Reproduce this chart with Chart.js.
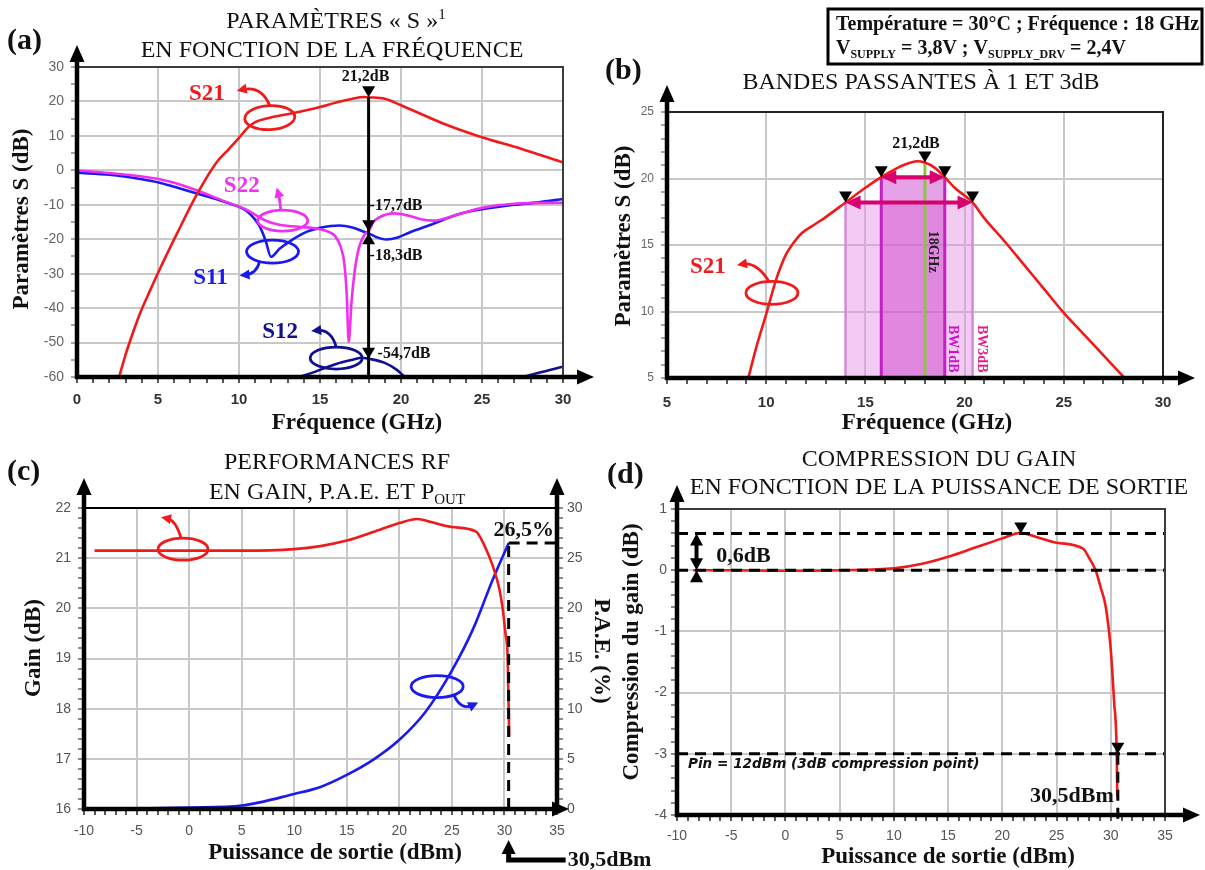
<!DOCTYPE html>
<html>
<head>
<meta charset="utf-8">
<script src="https://cdn.jsdelivr.net/npm/chart.js@4.4.1/dist/chart.umd.min.js"></script>
<style>
body { margin: 0; background: #fff; width: 1205px; height: 870px; overflow: hidden; position: relative; }
canvas { position: absolute; }
</style>
</head>
<body>
<canvas id="ca" width="600" height="440" style="left:0;top:0"></canvas>
<canvas id="cb" width="605" height="440" style="left:600px;top:0"></canvas>
<canvas id="cc" width="660" height="430" style="left:0;top:440px"></canvas>
<canvas id="cd" width="605" height="430" style="left:600px;top:440px"></canvas>
<script>
// ---- (a) S parameters vs frequency ----
var freqS21a = [2.6, 3, 3.5, 3.9, 4.5, 5.1, 6.2, 7.4, 8.6, 9.4, 10, 10.5, 11, 12, 13.2, 15, 16, 17, 17.7, 18, 19, 20, 22.6, 25, 27.4, 30];
var s21a = [-60, -53.5, -46.5, -41.4, -35, -28.8, -18.1, -7, 2.2, 6.3, 9.4, 12.2, 14, 15.4, 16.5, 18.4, 19.7, 20.8, 21.3, 21.2, 20.8, 18.9, 13.6, 9.6, 6.3, 2.3];
var freqS11 = [0, 2, 4, 5.1, 6, 7.6, 9, 10.4, 11, 11.3, 11.65, 11.97, 12.5, 13.3, 14.2, 15, 16.2, 17, 17.8, 18, 18.5, 19.1, 19.8, 20.5, 22, 23.5, 25, 27, 28.5, 30];
var s11 = [-0.7, -1.3, -2.6, -3.6, -4.8, -7, -9, -11.6, -14.3, -16.5, -20.5, -25.1, -22.8, -20.1, -17.8, -16.7, -16, -16.6, -18, -18.3, -19.4, -20.1, -19.5, -18.1, -15.5, -12.8, -11.3, -10, -9.3, -8.3];
var freqS22 = [0, 2, 4, 5.1, 6, 7.5, 9, 10.4, 11.7, 12.5, 13.7, 14.9, 15.5, 15.95, 16.3, 16.5, 16.65, 16.77, 16.95, 17.15, 17.4, 17.76, 18, 18.3, 18.6, 19.6, 20.5, 21.3, 22, 23.5, 25, 27, 30];
var s22 = [0, -0.8, -1.8, -2.6, -3.6, -6, -8.8, -11.3, -14.7, -15.8, -16.4, -17, -17.8, -19.2, -22.5, -27, -36, -49.8, -38, -29, -22.5, -18.6, -17.7, -15, -13.8, -12.5, -13.2, -14.3, -14.6, -12.8, -10.9, -9.7, -9.4];
var freqS12 = [12.5, 13.5, 14.5, 16, 17, 17.6, 18, 19, 19.7, 20.3, 21, 24, 27, 27.6, 28.5, 30];
var s12 = [-63, -60.5, -58.8, -56.2, -55, -54.4, -54.7, -55.9, -57.8, -60.2, -62.5, -66, -62, -60, -58.8, -57];
var markFreq = 18;
var markS21 = 21.2, markS22 = -17.7, markS11 = -18.3, markS12 = -54.7;

// ---- (b) bandwidths ----
var freqS21b = [9.1, 9.5, 10, 10.5, 11, 11.4, 11.8, 12.5, 13, 14, 15, 15.8, 16.5, 17, 17.6, 18, 18.5, 19, 19.5, 20.4, 21, 22, 23, 24, 25, 26, 27, 28];
var s21b = [5, 7.3, 9.8, 12.4, 14.3, 15.2, 15.9, 16.6, 17.1, 18.2, 19.3, 20.1, 20.7, 21.05, 21.3, 21.2, 20.8, 20.1, 19.3, 18.2, 17.0, 15.3, 13.5, 11.7, 9.9, 8.3, 6.7, 5.1];
var bw3 = [14, 20.4], bw1 = [15.8, 19];
var level3 = 18.2, level1 = 20.1, peakB = 21.2;

// ---- (c) gain & PAE vs output power ----
var poutGain = [-9, -5, 0, 5, 10, 12.5, 15, 17.5, 20, 21.7, 23, 25, 27.3, 28.1, 28.9, 29.5, 29.8, 30.1, 30.3, 30.45];
var gain = [21.15, 21.15, 21.15, 21.15, 21.18, 21.24, 21.35, 21.52, 21.7, 21.78, 21.72, 21.62, 21.53, 21.25, 20.84, 20.4, 20.04, 19.5, 19.04, 17.45];
var poutPae = [-10, -5, 0, 5, 10, 12.5, 15, 17.5, 20, 22.5, 25, 27, 28.9, 30.4];
var pae = [0, 0.05, 0.15, 0.35, 1.5, 2.2, 3.4, 4.9, 6.9, 9.7, 13.8, 17.9, 22.9, 26.5];
var paeMax = 26.5, poutSat = 30.4;

// ---- (d) gain compression ----
var poutComp = [-8.5, -5, 0, 5, 10, 12.5, 15, 17.5, 20, 21.7, 23, 25, 27.46, 28, 28.6, 29.1, 29.54, 30, 30.3, 30.55, 30.6];
var compression = [0, 0, -0.01, 0, 0.03, 0.1, 0.22, 0.37, 0.52, 0.61, 0.55, 0.45, 0.35, 0.2, 0, -0.3, -0.6, -1.3, -2.13, -3, -3.7];
var compPeak = 0.6, compPeakPout = 21.7, comp3 = -3, pout3 = 30.65;

var SERIF = '"Liberation Serif", "DejaVu Serif", serif';
var SANS = '"Liberation Sans", Arial, sans-serif';

function near(v, m) { var r = v / m; return Math.abs(r - Math.round(r)) < 1e-6; }

function axis(o) {
  return {
    type: 'linear', position: o.pos, min: o.min, max: o.max,
    ticks: {
      stepSize: o.step, autoSkip: false, maxRotation: 0, minRotation: 0,
      color: o.color || '#555', padding: o.pad,
      font: { family: SANS, size: o.size || 14, weight: o.bold ? 'bold' : 'normal' },
      callback: function (v) { return near(v, o.major) ? String(Math.round(v)) : ''; }
    },
    grid: {
      drawOnChartArea: o.grid !== false,
      color: function (c) { return c.tick && near(c.tick.value, o.major) ? '#c8c8c8' : 'rgba(0,0,0,0)'; },
      lineWidth: 2, tickLength: 6, tickWidth: 1.5, tickColor: o.tickColor || '#555'
    },
    border: { display: false },
    afterFit: function (s) { if (o.w) s.width = o.w; if (o.h) s.height = o.h; }
  };
}

function series(xs, ys, color, yAxisID) {
  var d = {
    data: xs.map(function (x, i) { return { x: x, y: ys[i] }; }),
    borderColor: color, backgroundColor: color, fill: false,
    pointRadius: 0, borderWidth: 2.6, cubicInterpolationMode: 'monotone'
  };
  if (yAxisID) d.yAxisID = yAxisID;
  return d;
}

function baseOptions(pad, scales) {
  return {
    responsive: false, animation: false, devicePixelRatio: 1,
    layout: { padding: pad },
    plugins: { legend: { display: false }, tooltip: { enabled: false } },
    scales: scales
  };
}

// ---- drawing helpers ----
function head(ctx, x, y, ang, len, wid) {
  var bx = x - Math.cos(ang) * len, by = y - Math.sin(ang) * len;
  var px = -Math.sin(ang) * wid / 2, py = Math.cos(ang) * wid / 2;
  ctx.beginPath(); ctx.moveTo(x, y); ctx.lineTo(bx + px, by + py); ctx.lineTo(bx - px, by - py); ctx.closePath(); ctx.fill();
}
function tri(ctx, x, y, dir, w, h) {
  w = w || 13; h = h || 11;
  var s = dir === 'up' ? 1 : -1;
  ctx.fillStyle = '#000';
  ctx.beginPath(); ctx.moveTo(x, y); ctx.lineTo(x - w / 2, y + s * h); ctx.lineTo(x + w / 2, y + s * h); ctx.closePath(); ctx.fill();
}
function txt(ctx, s, x, y, font, color, align, rot) {
  ctx.save(); ctx.translate(x, y); if (rot) ctx.rotate(rot);
  ctx.font = font; ctx.fillStyle = color || '#111'; ctx.textAlign = align || 'center'; ctx.textBaseline = 'middle';
  ctx.fillText(s, 0, 0); ctx.restore();
}
function rich(ctx, parts, x, y, size, weight, align) {
  function f(m) { return weight + ' ' + (m ? Math.round(size * 0.62) : size) + 'px ' + SERIF; }
  var w = 0;
  parts.forEach(function (p) { ctx.font = f(p[1]); w += ctx.measureText(p[0]).width; });
  var cx = align === 'center' ? x - w / 2 : x;
  ctx.fillStyle = '#111'; ctx.textAlign = 'left'; ctx.textBaseline = 'middle';
  parts.forEach(function (p) {
    ctx.font = f(p[1]);
    var dy = p[1] === 'sub' ? size * 0.3 : p[1] === 'sup' ? -size * 0.3 : 0;
    ctx.fillText(p[0], cx, y + dy);
    cx += ctx.measureText(p[0]).width;
  });
}
function ellipse(ctx, cx, cy, rx, ry, color, rot) {
  ctx.strokeStyle = color; ctx.lineWidth = 2.8;
  ctx.beginPath(); ctx.ellipse(cx, cy, rx, ry, rot || 0, 0, Math.PI * 2); ctx.stroke();
}
function curveArrow(ctx, x0, y0, cx, cy, x1, y1, color) {
  var ang = Math.atan2(y1 - cy, x1 - cx);
  ctx.strokeStyle = color; ctx.fillStyle = color; ctx.lineWidth = 2.8;
  ctx.beginPath(); ctx.moveTo(x0, y0);
  ctx.quadraticCurveTo(cx, cy, x1 - Math.cos(ang) * 6, y1 - Math.sin(ang) * 6); ctx.stroke();
  head(ctx, x1, y1, ang, 10, 10);
}
function dashed(ctx, x0, y0, x1, y1) {
  ctx.save(); ctx.strokeStyle = '#000'; ctx.lineWidth = 3; ctx.setLineDash([11, 7]);
  ctx.beginPath(); ctx.moveTo(x0, y0); ctx.lineTo(x1, y1); ctx.stroke(); ctx.restore();
}
function dblArrow(ctx, x0, y0, x1, y1, color, lw, hl, hw) {
  var ang = Math.atan2(y1 - y0, x1 - x0);
  ctx.strokeStyle = color; ctx.fillStyle = color; ctx.lineWidth = lw;
  ctx.beginPath();
  ctx.moveTo(x0 + Math.cos(ang) * hl * 0.8, y0 + Math.sin(ang) * hl * 0.8);
  ctx.lineTo(x1 - Math.cos(ang) * hl * 0.8, y1 - Math.sin(ang) * hl * 0.8); ctx.stroke();
  head(ctx, x1, y1, ang, hl, hw);
  head(ctx, x0, y0, ang + Math.PI, hl, hw);
}
function drawAxes(chart, o) {
  var ctx = chart.ctx, a = chart.chartArea;
  ctx.save();
  ctx.strokeStyle = o.frame || '#3c3c3c'; ctx.lineWidth = 2;
  ctx.beginPath(); ctx.moveTo(a.left, a.top); ctx.lineTo(a.right, a.top);
  if (!o.right) ctx.lineTo(a.right, a.bottom);
  ctx.stroke();
  ctx.strokeStyle = '#000'; ctx.fillStyle = '#000'; ctx.lineWidth = 4.5;
  function vert(x) {
    ctx.beginPath(); ctx.moveTo(x, a.bottom + 2); ctx.lineTo(x, a.top - o.up + 12); ctx.stroke();
    head(ctx, x, a.top - o.up, -Math.PI / 2, 17, 15);
  }
  vert(a.left);
  if (o.right) vert(a.right);
  ctx.beginPath(); ctx.moveTo(a.left - 2, a.bottom); ctx.lineTo(a.right + o.over - 12, a.bottom); ctx.stroke();
  head(ctx, a.right + o.over, a.bottom, 0, 17, 15);
  ctx.restore();
}
var TITLE = '24px ' + SERIF;
var AXT = 'bold 23px ' + SERIF;
var PANEL = 'bold 30px ' + SERIF;

// ---- chart (a) ----
var decorA = {
  id: 'decorA',
  afterDatasetsDraw: function (chart) {
    var ctx = chart.ctx, X = chart.scales.x, Y = chart.scales.y;
    var mx = X.getPixelForValue(markFreq);
    ctx.save();
    ctx.strokeStyle = '#000'; ctx.lineWidth = 3;
    ctx.beginPath(); ctx.moveTo(mx, Y.getPixelForValue(markS21)); ctx.lineTo(mx, chart.chartArea.bottom); ctx.stroke();
    tri(ctx, mx, Y.getPixelForValue(markS21), 'down');
    tri(ctx, mx, Y.getPixelForValue(markS22), 'down');
    tri(ctx, mx, Y.getPixelForValue(markS11), 'up');
    tri(ctx, mx, Y.getPixelForValue(markS12), 'down');
    var bf = 'bold 16px ' + SERIF;
    txt(ctx, '21,2dB', mx - 3, Y.getPixelForValue(markS21) - 20, bf);
    txt(ctx, '-17,7dB', mx + 1, Y.getPixelForValue(-10.2), bf, '#111', 'left');
    txt(ctx, '-18,3dB', mx + 1, Y.getPixelForValue(-24.8), bf, '#111', 'left');
    txt(ctx, '-54,7dB', mx + 9, Y.getPixelForValue(-53.2), bf, '#111', 'left');
    var lf = 'bold 23px ' + SERIF;
    // S21
    var e = [X.getPixelForValue(11.9), Y.getPixelForValue(15.3)];
    ellipse(ctx, e[0], e[1], 25, 12, '#f01a1a', -0.05);
    curveArrow(ctx, e[0], e[1] - 12, e[0] - 8, e[1] - 32, e[0] - 33, e[1] - 27, '#f01a1a');
    txt(ctx, 'S21', e[0] - 63, e[1] - 24, lf, '#f01a1a');
    // S22
    e = [X.getPixelForValue(12.7), Y.getPixelForValue(-14.6)];
    ellipse(ctx, e[0], e[1], 25, 10.5, '#f030f0');
    curveArrow(ctx, e[0] - 2, e[1] - 10.5, e[0] - 3, e[1] - 22, e[0] - 6, e[1] - 33, '#f030f0');
    txt(ctx, 'S22', e[0] - 41, e[1] - 35, lf, '#f030f0');
    // S11
    e = [X.getPixelForValue(12.07), Y.getPixelForValue(-23.6)];
    ellipse(ctx, e[0], e[1], 26, 11.5, '#1a1aee');
    curveArrow(ctx, e[0] - 13, e[1] + 10, e[0] - 16, e[1] + 22, e[0] - 33, e[1] + 24, '#1a1aee');
    txt(ctx, 'S11', e[0] - 62, e[1] + 26, lf, '#1a1aee');
    // S12
    e = [X.getPixelForValue(16.0), Y.getPixelForValue(-54.5)];
    ellipse(ctx, e[0], e[1], 26, 11, '#101090');
    curveArrow(ctx, e[0], e[1] - 11, e[0] - 5, e[1] - 29, e[0] - 25, e[1] - 27, '#101090');
    txt(ctx, 'S12', e[0] - 56, e[1] - 26, lf, '#101090');
    ctx.restore();
  },
  afterDraw: function (chart) {
    var ctx = chart.ctx;
    drawAxes(chart, { up: 22, over: 31 });
    ctx.save();
    txt(ctx, '(a)', 7, 41, PANEL, '#111', 'left');
    rich(ctx, [['PARAMÈTRES « S »', ''], ['1', 'sup']], 336, 22, 24, 'normal', 'center');
    txt(ctx, 'EN FONCTION DE LA FRÉQUENCE', 332, 51, TITLE);
    txt(ctx, 'Fréquence (GHz)', 357, 423, AXT);
    txt(ctx, 'Paramètres S (dB)', 22, 219, AXT, '#111', 'center', -Math.PI / 2);
    ctx.restore();
  }
};

new Chart(document.getElementById('ca'), {
  type: 'line',
  data: { datasets: [
    series(freqS21a, s21a, '#f01a1a'),
    series(freqS22, s22, '#f030f0'),
    series(freqS11, s11, '#1a1aee'),
    series(freqS12, s12, '#101090')
  ] },
  options: baseOptions({ left: 0, right: 37, top: 67, bottom: 0 }, {
    x: axis({ pos: 'bottom', min: 0, max: 30, step: 1, major: 5, h: 63, bold: true, size: 15, color: '#333', pad: 8, tickColor: '#222' }),
    y: axis({ pos: 'left', min: -60, max: 30, step: 5, major: 10, w: 77, size: 14, color: '#666', pad: 7, tickColor: '#888' })
  }),
  plugins: [decorA]
});

// ---- chart (b) ----
var decorB = {
  id: 'decorB',
  beforeDatasetsDraw: function (chart) {
    var ctx = chart.ctx, X = chart.scales.x, Y = chart.scales.y, yb = chart.chartArea.bottom;
    var x0 = X.getPixelForValue(bw3[0]), x1 = X.getPixelForValue(bw3[1]);
    var u0 = X.getPixelForValue(bw1[0]), u1 = X.getPixelForValue(bw1[1]);
    var y3 = Y.getPixelForValue(level3), y1 = Y.getPixelForValue(level1);
    ctx.save();
    ctx.fillStyle = 'rgba(226,140,226,0.45)'; ctx.fillRect(x0, y3, x1 - x0, yb - y3);
    ctx.fillStyle = 'rgba(205,70,205,0.5)'; ctx.fillRect(u0, y1, u1 - u0, yb - y1);
    ctx.strokeStyle = '#d68ad6'; ctx.lineWidth = 2.5;
    [x0, x1].forEach(function (x) { ctx.beginPath(); ctx.moveTo(x, y3); ctx.lineTo(x, yb); ctx.stroke(); });
    ctx.strokeStyle = '#c81ec8'; ctx.lineWidth = 3;
    [u0, u1].forEach(function (x) { ctx.beginPath(); ctx.moveTo(x, y1); ctx.lineTo(x, yb); ctx.stroke(); });
    var gx = X.getPixelForValue(markFreq);
    ctx.strokeStyle = '#8cc63f'; ctx.lineWidth = 3;
    ctx.beginPath(); ctx.moveTo(gx, Y.getPixelForValue(peakB)); ctx.lineTo(gx, yb); ctx.stroke();
    ctx.restore();
  },
  afterDatasetsDraw: function (chart) {
    var ctx = chart.ctx, X = chart.scales.x, Y = chart.scales.y;
    ctx.save();
    var y3 = Y.getPixelForValue(level3), y1 = Y.getPixelForValue(level1);
    dblArrow(ctx, X.getPixelForValue(bw1[0]), y1, X.getPixelForValue(bw1[1]), y1, '#d6006e', 4, 15, 14);
    dblArrow(ctx, X.getPixelForValue(bw3[0]), y3, X.getPixelForValue(bw3[1]), y3, '#d6006e', 4, 15, 14);
    var gx = X.getPixelForValue(markFreq);
    tri(ctx, gx, Y.getPixelForValue(peakB), 'down');
    tri(ctx, X.getPixelForValue(bw1[0]), y1, 'down');
    tri(ctx, X.getPixelForValue(bw1[1]), y1, 'down');
    tri(ctx, X.getPixelForValue(bw3[0]), y3, 'down');
    tri(ctx, X.getPixelForValue(bw3[1]), y3, 'down');
    txt(ctx, '21,2dB', gx - 9, Y.getPixelForValue(peakB) - 19, 'bold 16px ' + SERIF);
    txt(ctx, '18GHz', gx + 8, Y.getPixelForValue(14.5), 'bold 14px ' + SERIF, '#222', 'center', Math.PI / 2);
    txt(ctx, 'BW1dB', X.getPixelForValue(bw1[1]) + 8, Y.getPixelForValue(7.2), 'bold 14px ' + SERIF, '#cc10cc', 'center', Math.PI / 2);
    txt(ctx, 'BW3dB', X.getPixelForValue(bw3[1]) + 9, Y.getPixelForValue(7.2), 'bold 14px ' + SERIF, '#e0208a', 'center', Math.PI / 2);
    var e = [X.getPixelForValue(10.29), Y.getPixelForValue(11.4)];
    ellipse(ctx, e[0], e[1], 26, 11.5, '#f01a1a');
    curveArrow(ctx, e[0] - 3, e[1] - 11.5, e[0] - 15, e[1] - 31, e[0] - 35, e[1] - 28, '#f01a1a');
    txt(ctx, 'S21', e[0] - 64, e[1] - 26, 'bold 23px ' + SERIF, '#f01a1a');
    ctx.restore();
  },
  afterDraw: function (chart) {
    var ctx = chart.ctx;
    drawAxes(chart, { up: 27, over: 32, frame: '#222' });
    ctx.save();
    txt(ctx, '(b)', 5, 71, PANEL, '#111', 'left');
    txt(ctx, 'BANDES PASSANTES À 1 ET 3dB', 321, 83, TITLE);
    txt(ctx, 'Fréquence (GHz)', 327, 423, AXT);
    txt(ctx, 'Paramètres S (dB)', 24, 236, AXT, '#111', 'center', -Math.PI / 2);
    ctx.strokeStyle = '#000'; ctx.lineWidth = 3;
    ctx.strokeRect(228, 9, 374, 55);
    txt(ctx, 'Température = 30°C ; Fréquence : 18 GHz', 236, 25, 'bold 20px ' + SERIF, '#111', 'left');
    rich(ctx, [['V', ''], ['SUPPLY', 'sub'], [' = 3,8V ; V', ''], ['SUPPLY_DRV', 'sub'], [' = 2,4V', '']], 236, 49, 20, 'bold', 'left');
    ctx.restore();
  }
};

new Chart(document.getElementById('cb'), {
  type: 'line',
  data: { datasets: [series(freqS21b, s21b, '#f01a1a')] },
  options: baseOptions({ left: 0, right: 42, top: 112, bottom: 0 }, {
    x: axis({ pos: 'bottom', min: 5, max: 30, step: 1, major: 5, h: 62, bold: true, size: 15, color: '#333', pad: 10, tickColor: '#222' }),
    y: axis({ pos: 'left', min: 5, max: 25, step: 1, major: 5, w: 67, size: 12, color: '#666', pad: 7, tickColor: '#888' })
  }),
  plugins: [decorB]
});

// ---- chart (c) ----
var decorC = {
  id: 'decorC',
  afterDatasetsDraw: function (chart) {
    var ctx = chart.ctx, X = chart.scales.x, Y = chart.scales.y, Y2 = chart.scales.y2, a = chart.chartArea;
    ctx.save();
    var sx = X.getPixelForValue(poutSat), py = Y2.getPixelForValue(paeMax);
    dashed(ctx, sx, a.bottom, sx, py);
    dashed(ctx, sx, py, a.right, py);
    var e = [X.getPixelForValue(-0.58), Y.getPixelForValue(21.18)];
    ellipse(ctx, e[0], e[1], 25, 11, '#f01a1a');
    curveArrow(ctx, e[0] - 2, e[1] - 11, e[0] - 7, e[1] - 29, e[0] - 22, e[1] - 32, '#f01a1a');
    e = [X.getPixelForValue(23.6), Y2.getPixelForValue(12.2)];
    ellipse(ctx, e[0], e[1], 26, 11, '#1a1aee');
    curveArrow(ctx, e[0] + 17, e[1] + 9, e[0] + 24, e[1] + 24, e[0] + 41, e[1] + 16, '#1a1aee');
    txt(ctx, '26,5%', sx + 15, py - 13, 'bold 22px ' + SERIF);
    ctx.restore();
  },
  afterDraw: function (chart) {
    var ctx = chart.ctx, X = chart.scales.x;
    drawAxes(chart, { up: 30, over: 12, right: true, frame: '#000' });
    ctx.save();
    txt(ctx, '(c)', 7, 32, PANEL, '#111', 'left');
    txt(ctx, 'PERFORMANCES RF', 337, 23, TITLE);
    rich(ctx, [['EN GAIN, P.A.E. ET P', ''], ['OUT', 'sub']], 337, 53, 24, 'normal', 'center');
    txt(ctx, 'Puissance de sortie (dBm)', 335, 413, AXT);
    txt(ctx, 'Gain (dB)', 34, 208, AXT, '#111', 'center', -Math.PI / 2);
    txt(ctx, 'P.A.E. (%)', 601, 211, AXT, '#111', 'center', Math.PI / 2);
    // 30,5dBm pointer below the axis
    var sx = X.getPixelForValue(poutSat);
    ctx.strokeStyle = '#000'; ctx.fillStyle = '#000'; ctx.lineWidth = 5;
    ctx.beginPath(); ctx.moveTo(sx + 57, 420); ctx.lineTo(sx, 420); ctx.lineTo(sx, 412); ctx.stroke();
    head(ctx, sx, 400, -Math.PI / 2, 14, 14);
    txt(ctx, '30,5dBm', sx + 59, 420, 'bold 22px ' + SERIF, '#111', 'left');
    ctx.restore();
  }
};

new Chart(document.getElementById('cc'), {
  type: 'line',
  data: { datasets: [
    series(poutGain, gain, '#f01a1a', 'y'),
    series(poutPae, pae, '#1a1aee', 'y2')
  ] },
  options: baseOptions({ left: 0, right: 60, top: 68, bottom: 0 }, {
    x: axis({ pos: 'bottom', min: -10, max: 35, step: 1, major: 5, h: 61, size: 14, color: '#555', pad: 8, tickColor: '#222' }),
    y: axis({ pos: 'left', min: 16, max: 22, step: 0.2, major: 1, w: 84, size: 14, color: '#555', pad: 7, tickColor: '#666' }),
    y2: axis({ pos: 'right', min: 0, max: 30, step: 1, major: 5, w: 43, size: 14, color: '#555', pad: 4, tickColor: '#666', grid: false })
  }),
  plugins: [decorC]
});

// ---- chart (d) ----
var decorD = {
  id: 'decorD',
  afterDatasetsDraw: function (chart) {
    var ctx = chart.ctx, X = chart.scales.x, Y = chart.scales.y, a = chart.chartArea;
    ctx.save();
    var yp = Y.getPixelForValue(compPeak), y0 = Y.getPixelForValue(0), y3 = Y.getPixelForValue(comp3);
    dashed(ctx, a.left, yp, a.right, yp);
    dashed(ctx, a.left, y0, a.right, y0);
    dashed(ctx, a.left, y3, a.right, y3);
    var x3 = X.getPixelForValue(pout3);
    dashed(ctx, x3, y3, x3, a.bottom + 6);
    tri(ctx, X.getPixelForValue(compPeakPout), yp, 'down');
    tri(ctx, x3, y3, 'down');
    var ax = X.getPixelForValue(-8.2);
    dblArrow(ctx, ax, yp, ax, y0, '#000', 4, 12, 13);
    tri(ctx, ax, y0, 'up', 13, 12);
    txt(ctx, '0,6dB', ax + 47, (yp + y0) / 2 + 4, 'bold 22px ' + SERIF);
    ctx.font = 'italic 600 13px "DejaVu Sans", sans-serif';
    var w = ctx.measureText('Pin = 12dBm (3dB compression point)').width;
    var fs = 13 * 292 / w;
    txt(ctx, 'Pin = 12dBm (3dB compression point)', a.left + 11, y3 + 11, 'italic 600 ' + fs.toFixed(1) + 'px "DejaVu Sans", sans-serif', '#111', 'left');
    txt(ctx, '30,5dBm', x3 - 4, Y.getPixelForValue(-3.7), 'bold 22px ' + SERIF, '#111', 'right');
    ctx.restore();
  },
  afterDraw: function (chart) {
    var ctx = chart.ctx;
    drawAxes(chart, { up: 24, over: 35 });
    ctx.save();
    txt(ctx, '(d)', 7, 35, PANEL, '#111', 'left');
    txt(ctx, 'COMPRESSION DU GAIN', 339, 20, TITLE);
    txt(ctx, 'EN FONCTION DE LA PUISSANCE DE SORTIE', 339, 48, TITLE);
    txt(ctx, 'Puissance de sortie (dBm)', 348, 417, AXT);
    txt(ctx, 'Compression du gain (dB)', 32, 212, AXT, '#111', 'center', -Math.PI / 2);
    ctx.restore();
  }
};

new Chart(document.getElementById('cd'), {
  type: 'line',
  data: { datasets: [series(poutComp, compression, '#f01a1a')] },
  options: baseOptions({ left: 0, right: 40, top: 69, bottom: 0 }, {
    x: axis({ pos: 'bottom', min: -10, max: 35, step: 1, major: 5, h: 55, size: 14, color: '#555', pad: 7, tickColor: '#222' }),
    y: axis({ pos: 'left', min: -4, max: 1, step: 0.2, major: 1, w: 77, size: 14, color: '#555', pad: 4, tickColor: '#666' })
  }),
  plugins: [decorD]
});
</script>
</body>
</html>
